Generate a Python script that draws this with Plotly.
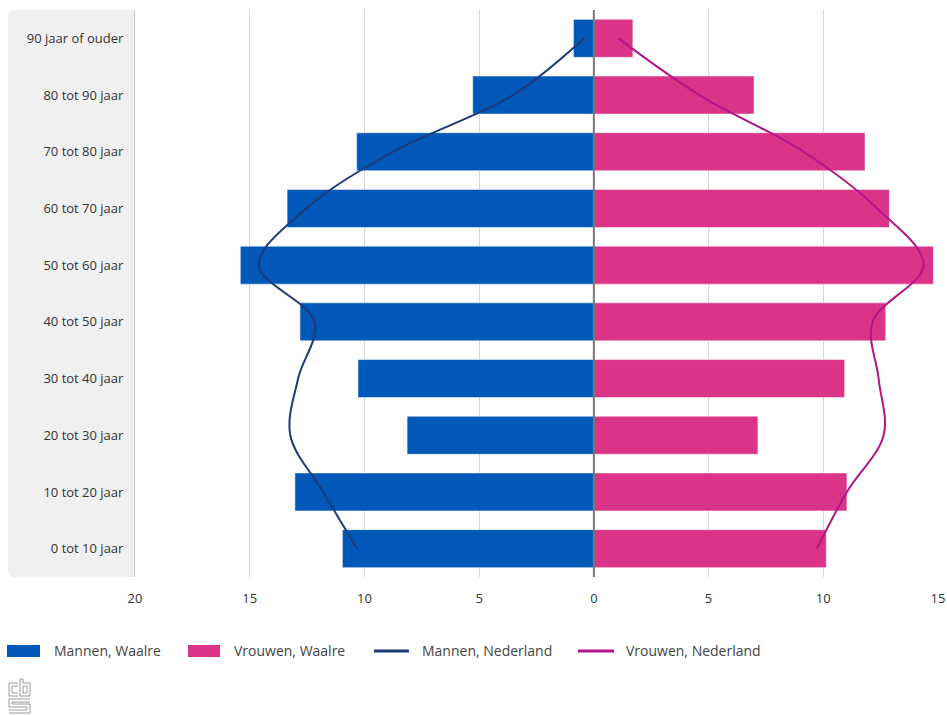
import plotly.graph_objects as go

categories = ["0 tot 10 jaar", "10 tot 20 jaar", "20 tot 30 jaar", "30 tot 40 jaar",
              "40 tot 50 jaar", "50 tot 60 jaar", "60 tot 70 jaar", "70 tot 80 jaar",
              "80 tot 90 jaar", "90 jaar of ouder"]
mannen_waalre = [10.96, 13.03, 8.14, 10.28, 12.81, 15.41, 13.37, 10.34, 5.28, 0.89]
vrouwen_waalre = [10.13, 11.03, 7.15, 10.93, 12.72, 14.80, 12.88, 11.82, 6.98, 1.70]
mannen_nederland = [10.32, 11.8, 13.23, 12.89, 12.17, 14.6, 12.53, 8.75, 3.52, 0.42]
vrouwen_nederland = [9.72, 11.03, 12.63, 12.41, 12.15, 14.37, 12.35, 9.14, 4.6, 1.07]
tick_vals = [-20, -15, -10, -5, 0, 5, 10, 15]
tick_text = ["20", "15", "10", "5", "0", "5", "10", "15"]
legend_names = ["Mannen, Waalre", "Vrouwen, Waalre", "Mannen, Nederland", "Vrouwen, Nederland"]

BLUE = "#0058b8"
PINK = "#da3388"
NAVY = "#1f3a78"
MAGENTA = "#b01688"
FONT = "Open Sans, Noto Sans, sans-serif"

W, H = 947, 715
L, R, T, B = 135, 9, 10, 138
PW, PH = W - L - R, H - T - B


def px(x):
    return (x - L) / PW


def py(y):
    return (H - B - y) / PH


fig = go.Figure()
fig.add_trace(go.Bar(y=categories, x=[-v for v in mannen_waalre], orientation="h",
                     marker=dict(color=BLUE, line=dict(color="rgba(255,255,255,0.5)", width=1)),
                     width=0.67, name=legend_names[0], showlegend=False))
fig.add_trace(go.Bar(y=categories, x=vrouwen_waalre, orientation="h",
                     marker=dict(color=PINK, line=dict(color="rgba(255,255,255,0.5)", width=1)),
                     width=0.67, name=legend_names[1], showlegend=False))
fig.add_trace(go.Scatter(y=categories, x=[-v for v in mannen_nederland], mode="lines",
                         line=dict(color=NAVY, width=2, shape="spline", smoothing=1.0),
                         name=legend_names[2], showlegend=False))
fig.add_trace(go.Scatter(y=categories, x=vrouwen_nederland, mode="lines",
                         line=dict(color=MAGENTA, width=2, shape="spline", smoothing=1.0),
                         name=legend_names[3], showlegend=False))

shapes = []
# category label panel
x0, x1 = px(8), px(135)
y0, y1 = py(577), py(10)
r = 6
shapes.append(dict(type="path", xref="paper", yref="paper", layer="below",
                   path=(f"M {x1},{y0} L {px(8 + r)},{y0} Q {x0},{y0} {x0},{py(577 - r)} "
                         f"L {x0},{py(10 + r)} Q {x0},{y1} {px(8 + r)},{y1} L {x1},{y1} Z"),
                   fillcolor="#f0f0f0", line=dict(width=0)))
# zero line
shapes.append(dict(type="line", xref="x", yref="paper", x0=0, x1=0, y0=0, y1=1,
                   line=dict(color="#777777", width=2), layer="above"))

# manual legend
ly = 651
shapes.append(dict(type="rect", xref="paper", yref="paper", x0=px(7), x1=px(40),
                   y0=py(ly + 6), y1=py(ly - 6), fillcolor=BLUE, line=dict(width=0)))
shapes.append(dict(type="rect", xref="paper", yref="paper", x0=px(188), x1=px(220),
                   y0=py(ly + 6), y1=py(ly - 6), fillcolor=PINK, line=dict(width=0)))
shapes.append(dict(type="line", xref="paper", yref="paper", x0=px(374), x1=px(409),
                   y0=py(ly), y1=py(ly), line=dict(color=NAVY, width=3)))
shapes.append(dict(type="line", xref="paper", yref="paper", x0=px(578), x1=px(614),
                   y0=py(ly), y1=py(ly), line=dict(color=MAGENTA, width=3)))

annotations = []
for xpos, name in zip([52, 232, 420, 624], legend_names):
    annotations.append(dict(xref="paper", yref="paper", x=px(xpos), y=py(ly), text=name,
                            showarrow=False, xanchor="left", yanchor="middle",
                            font=dict(family=FONT, size=14, color="#444444")))

# CBS logo (simple outline)
logo_paths = [
    # c
    [(18, 683), (9, 683), (9, 696), (18, 696)],
    [(18, 686), (12, 686), (12, 693), (18, 693)],
    # b
    [(20, 679), (20, 696), (30, 696), (30, 683), (23, 683), (23, 679), (20, 679)],
    [(23, 686), (27, 686), (27, 693), (23, 693), (23, 686)],
    # s
    [(30, 699), (9, 699), (9, 707), (27, 707), (27, 710), (9, 710)],
    [(30, 702), (12, 702), (12, 704), (30, 704), (30, 713), (9, 713)],
]
for pts in logo_paths:
    d = "M " + " L ".join(f"{px(a)},{py(b)}" for a, b in pts)
    shapes.append(dict(type="path", xref="paper", yref="paper", path=d,
                       line=dict(color="#9a9a9a", width=1)))

fig.update_layout(
    width=W, height=H,
    margin=dict(l=L, r=R, t=T, b=B, autoexpand=False),
    barmode="overlay",
    plot_bgcolor="white", paper_bgcolor="white",
    font=dict(family=FONT, size=13, color="#333333"),
    shapes=shapes, annotations=annotations,
    showlegend=False,
    xaxis=dict(range=[-20, 15], tickvals=tick_vals, ticktext=tick_text,
               showgrid=True, gridcolor="#d6d6d6", gridwidth=1, zeroline=False,
               showline=False, ticks="", tickfont=dict(size=13, color="#333333"),
               ticklabelstandoff=12, automargin=False, fixedrange=True),
    yaxis=dict(type="category", categoryorder="array", categoryarray=categories,
               range=[-0.5, 9.5], showgrid=False, zeroline=False,
               showline=True, linecolor="#c8c8c8", linewidth=1, ticks="",
               tickfont=dict(size=13, color="#333333"), ticklabelstandoff=8,
               automargin=False, fixedrange=True),
)

fig.write_html("out.html", config={"displayModeBar": False},
               post_script="document.body.style.margin='0';document.body.style.overflow='hidden';")
